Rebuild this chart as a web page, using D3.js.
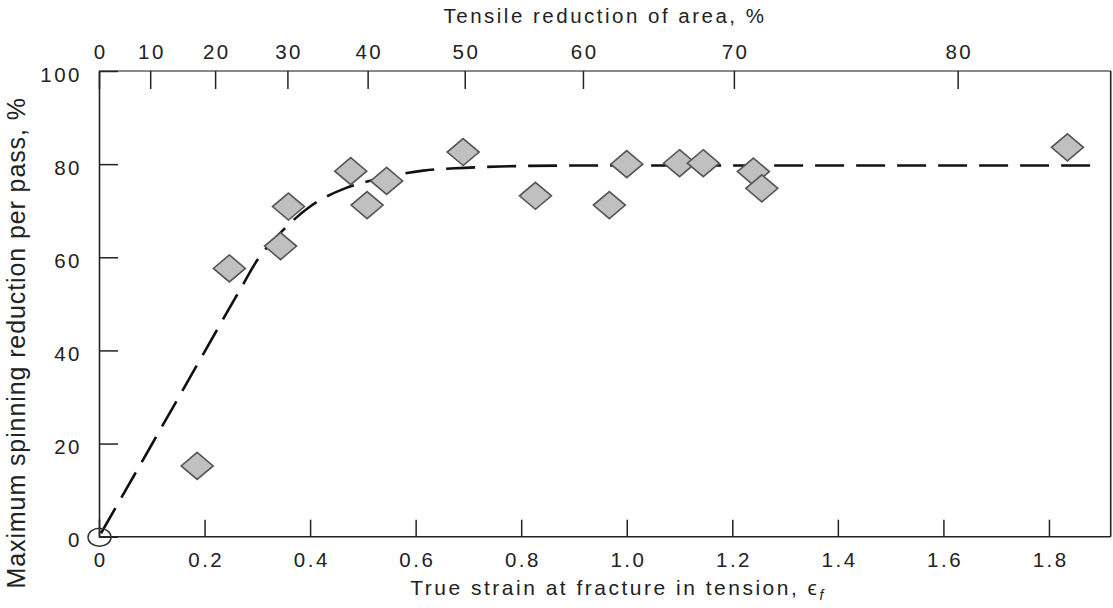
<!DOCTYPE html>
<html>
<head>
<meta charset="utf-8">
<script src="https://cdn.jsdelivr.net/npm/d3@7"></script>
<style>
  html, body { margin: 0; padding: 0; background: #fff; }
  svg { display: block; }
  text { font-family: "Liberation Sans", Arial, Helvetica, sans-serif; fill: #222; }
</style>
</head>
<body>
<svg id="chart" width="1113" height="608"></svg>
<script>
// ---- data ----
const strain    = [0.186, 0.247, 0.344, 0.359, 0.477, 0.508, 0.545, 0.690, 0.827, 0.967, 1.000, 1.100, 1.145, 1.240, 1.256, 1.835];
const reduction = [15.2, 57.6, 62.4, 70.9, 78.5, 71.2, 76.4, 82.6, 73.2, 71.2, 80.0, 80.2, 80.2, 78.4, 74.8, 83.6];

const originStrain = [0];
const originReduction = [0];

const curveStrain    = [0, 0.10, 0.20, 0.267, 0.30, 0.346, 0.40, 0.466, 0.52, 0.564, 0.614, 0.693, 0.76, 0.90, 1.20, 1.60, 1.897];
const curveReduction = [0, 19.8, 39.7, 53.0, 59.4, 65.5, 70.9, 74.8, 76.6, 77.7, 78.6, 79.2, 79.5, 79.7, 79.7, 79.7, 79.7];

const xTicks = [0, 0.2, 0.4, 0.6, 0.8, 1.0, 1.2, 1.4, 1.6, 1.8];
const xTickLabels = ["0", "0.2", "0.4", "0.6", "0.8", "1.0", "1.2", "1.4", "1.6", "1.8"];
const yTicks = [0, 20, 40, 60, 80, 100];
const raTicks = [0, 10, 20, 30, 40, 50, 60, 70, 80];          // tensile reduction of area, %
const raTickStrain = [0, 0.097, 0.220, 0.357, 0.509, 0.693, 0.917, 1.203, 1.627]; // equivalent true strain

const xTitle = "True strain at fracture in tension, ";
const topTitle = "Tensile reduction of area, %";
const yTitle = "Maximum spinning reduction per pass, %";

// ---- layout ----
const L = 99, R = 1110.7, T = 71, B = 536.7;
const svg = d3.select("#chart");

const x = d3.scaleLinear().domain([0, 1.917]).range([L, R]);
const y = d3.scaleLinear().domain([0, 100]).range([B, T]);
const xTop = d3.scaleLinear().domain(raTicks).range(raTickStrain.map(s => x(s)));

const tickLen = 17;
const fontSize = 20.5, spacing = 2.5;

// frame
svg.append("line").attr("x1", L).attr("x2", R).attr("y1", T).attr("y2", T)
  .attr("stroke", "#888").attr("stroke-width", 2);
svg.append("line").attr("x1", R).attr("x2", R).attr("y1", T).attr("y2", B)
  .attr("stroke", "#222").attr("stroke-width", 1.6);

// bottom axis
const gB = svg.append("g").attr("transform", `translate(0,${B})`)
  .call(d3.axisBottom(x).tickValues(xTicks).tickSize(-tickLen).tickSizeOuter(0)
    .tickFormat((d, i) => xTickLabels[i]));
gB.select(".domain").attr("stroke", "#222").attr("stroke-width", 1.6).attr("d", `M${L},0H${R}`);
gB.selectAll(".tick line").attr("stroke", "#222").attr("stroke-width", 1.5);
gB.selectAll(".tick text").attr("y", 0).attr("dy", null).attr("transform", "translate(1.2,30)")
  .style("font-size", fontSize + "px").style("letter-spacing", spacing + "px").attr("fill", "#222");

// left axis
const gL = svg.append("g").attr("transform", `translate(${L},0)`)
  .call(d3.axisLeft(y).tickValues(yTicks).tickSize(-19).tickSizeOuter(0));
gL.select(".domain").attr("stroke", "#222").attr("stroke-width", 1.6);
gL.selectAll(".tick line").attr("stroke", "#222").attr("stroke-width", 1.5);
gL.selectAll(".tick text").attr("x", -17).attr("dy", "0.5em")
  .style("font-size", fontSize + "px").style("letter-spacing", spacing + "px").attr("fill", "#222");

// top axis
const gT = svg.append("g").attr("transform", `translate(0,${T})`)
  .call(d3.axisTop(xTop).tickValues(raTicks).tickSize(-18).tickSizeOuter(0));
gT.select(".domain").remove();
gT.selectAll(".tick line").attr("stroke", "#222").attr("stroke-width", 1.5);
gT.selectAll(".tick text").attr("y", 0).attr("dy", null).attr("transform", "translate(1.2,-12)")
  .style("font-size", fontSize + "px").style("letter-spacing", spacing + "px").attr("fill", "#222");

svg.selectAll(".tick text").attr("font-family", null);

// titles
svg.append("text").attr("x", 605).attr("y", 23).attr("text-anchor", "middle")
  .style("font-size", fontSize + "px").style("letter-spacing", spacing + "px").text(topTitle);

const xt = svg.append("text").attr("x", 618).attr("y", 595).attr("text-anchor", "middle")
  .style("font-size", "21px").style("letter-spacing", spacing + "px");
xt.append("tspan").text(xTitle);
xt.append("tspan").text("\u03F5");
xt.append("tspan").attr("dy", 5).style("font-size", "14px").style("font-style", "italic").text("f");

svg.append("text").attr("transform", `translate(25,${(T + B) / 2 + 39}) rotate(-90)`)
  .attr("text-anchor", "middle").style("font-size", "25px").style("letter-spacing", "0.9px")
  .text(yTitle);

// dashed fitted curve
const curvePts = curveStrain.map((s, i) => [s, curveReduction[i]]);
svg.append("path").datum(curvePts)
  .attr("d", d3.line().x(d => x(d[0])).y(d => y(d[1])).curve(d3.curveMonotoneX))
  .attr("fill", "none").attr("stroke", "#111").attr("stroke-width", 2.6)
  .attr("stroke-dasharray", "29,12").attr("stroke-dashoffset", -4);

// origin point (open circle)
svg.selectAll("ellipse.origin").data(originStrain.map((s, i) => [s, originReduction[i]]))
  .enter().append("ellipse").attr("class", "origin")
  .attr("cx", d => x(d[0]) + 0.5).attr("cy", d => y(d[1]) + 0.5)
  .attr("rx", 11.5).attr("ry", 9)
  .attr("fill", "none").attr("stroke", "#333").attr("stroke-width", 1.5);

// diamonds
const hw = 16, hh = 13.5;
svg.selectAll("path.pt").data(strain.map((s, i) => [s, reduction[i]]))
  .enter().append("path").attr("class", "pt")
  .attr("d", d => {
    const cx = x(d[0]), cy = y(d[1]);
    return `M${cx},${cy - hh}L${cx + hw},${cy}L${cx},${cy + hh}L${cx - hw},${cy}Z`;
  })
  .attr("fill", "#c0c0c0").attr("stroke", "#555").attr("stroke-width", 1.6);
</script>
</body>
</html>
